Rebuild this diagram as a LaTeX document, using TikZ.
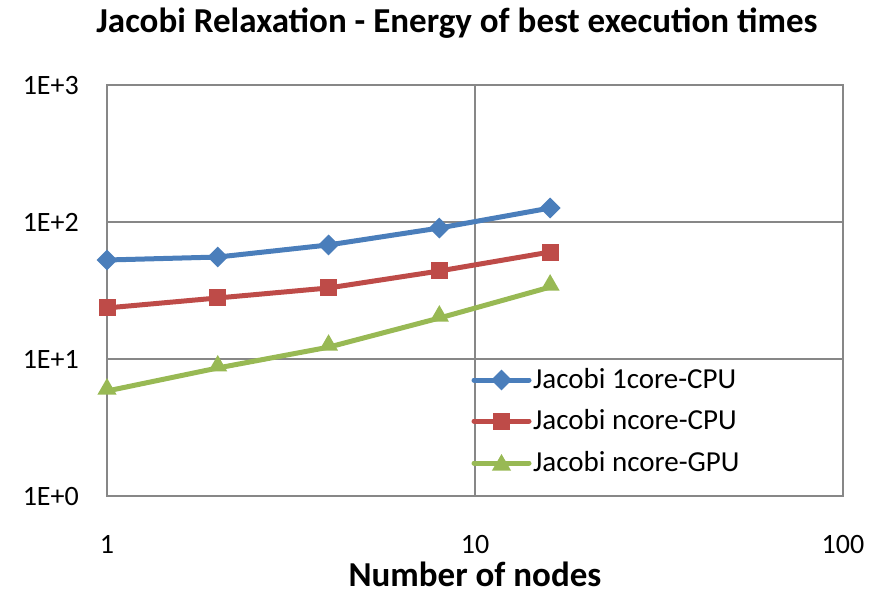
\documentclass[tikz,border=0pt]{standalone}
\usepackage{fontspec}
\setmainfont{Carlito}
\usetikzlibrary{shapes.geometric}
\definecolor{sblue}{HTML}{4A7EBB}
\definecolor{sred}{HTML}{BE4B48}
\definecolor{sgreen}{HTML}{98B954}
\definecolor{gridc}{HTML}{878787}
\tikzset{
  gridline/.style={draw=gridc, line width=1.6pt},
  serline/.style={line width=5pt, line join=round, line cap=round},
  bmark/.style={diamond, fill=sblue, inner sep=0pt, minimum size=21pt, aspect=1},
  rmark/.style={rectangle, fill=sred, inner sep=0pt, minimum size=17pt},
  gmark/.style={regular polygon, regular polygon sides=3, fill=sgreen, inner sep=0pt, minimum size=22pt},
  ticklab/.style={font=\fontsize{28}{32}\selectfont, inner sep=0pt},
  legtext/.style={font=\fontsize{29}{33}\selectfont, anchor=base west, inner sep=0pt},
}
\begin{document}
\begin{tikzpicture}[x=1pt,y=-1pt]
\useasboundingbox (0,0) rectangle (881,592);
% grid and frame
\draw[gridline] (107,222) -- (843,222);
\draw[gridline] (107,359) -- (843,359);
\draw[gridline] (475,85) -- (475,496);
\draw[gridline] (107,85) rectangle (843,496);
% title
\node[font=\bfseries\fontsize{35}{40}\selectfont, anchor=base, inner sep=0pt] (title) at (457,32) {Jacobi Relaxation - Energy of best execution times};
% y tick labels
\node[ticklab, anchor=base east] (y3) at (79,94) {1E+3};
\node[ticklab, anchor=base east] (y2) at (79,231) {1E+2};
\node[ticklab, anchor=base east] (y1) at (79,368) {1E+1};
\node[ticklab, anchor=base east] (y0) at (79,505) {1E+0};
% x tick labels
\node[ticklab, anchor=base] (x0) at (107,553) {1};
\node[ticklab, anchor=base] (x1) at (475,553) {10};
\node[ticklab, anchor=base] (x2) at (843,553) {100};
\node[font=\bfseries\fontsize{35}{40}\selectfont, anchor=base, inner sep=0pt, text depth=0pt] (xtitle) at (475,586) {Number of nodes};
% data coordinates
\foreach \n/\v [count=\i] in {1/52.8,2/55.5,4/68,8/90.4,16/126.5}
  \coordinate (b\i) at ({107+368*log10(\n)},{496-137*log10(\v)});
\foreach \n/\v [count=\i] in {1/23.6,2/27.9,4/33,8/43.9,16/60.4}
  \coordinate (r\i) at ({107+368*log10(\n)},{496-137*log10(\v)});
\foreach \n/\v [count=\i] in {1/5.84,2/8.6,4/12.2,8/19.9,16/33.5}
  \coordinate (g\i) at ({107+368*log10(\n)},{496-137*log10(\v)});
% series
\draw[serline, sgreen] (g1) -- (g2) -- (g3) -- (g4) -- (g5);
\draw[serline, sred] (r1) -- (r2) -- (r3) -- (r4) -- (r5);
\draw[serline, sblue] (b1) -- (b2) -- (b3) -- (b4) -- (b5);
\foreach \i in {1,...,5} {
  \node[gmark] (gm\i) at ([yshift=2pt]g\i) {};
  \node[rmark] (rm\i) at (r\i) {};
  \node[bmark] (bm\i) at (b\i) {};
}
% legend
\coordinate (lb0) at (474,380); \coordinate (lb1) at (529,380);
\coordinate (lr0) at (474,421); \coordinate (lr1) at (529,421);
\coordinate (lg0) at (474,463); \coordinate (lg1) at (529,463);
\draw[serline, sblue] (lb0) -- (lb1);
\draw[serline, sred] (lr0) -- (lr1);
\draw[serline, sgreen] (lg0) -- (lg1);
\node[bmark] (lbm) at (501.5,380) {};
\node[rmark] (lrm) at (501.5,421) {};
\node[gmark] (lgm) at (501.5,465) {};
\node[legtext] (lbt) at (533,388) {Jacobi 1core-CPU};
\node[legtext] (lrt) at (533,429) {Jacobi ncore-CPU};
\node[legtext] (lgt) at (533,471) {Jacobi ncore-GPU};
\end{tikzpicture}
\end{document}
